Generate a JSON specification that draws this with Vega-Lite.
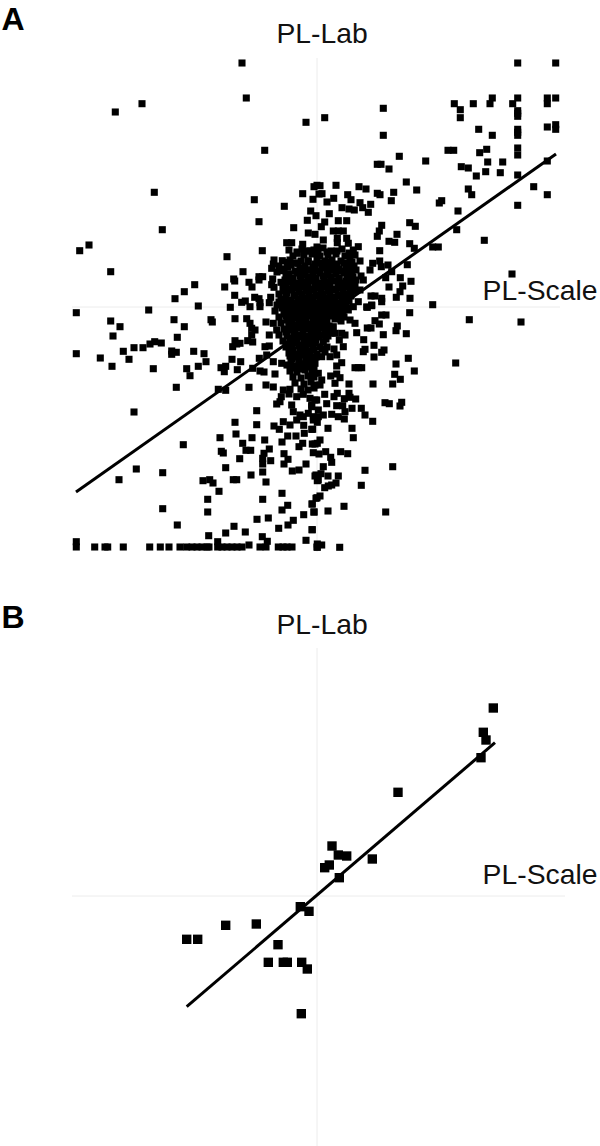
{"$schema":"https://vega.github.io/schema/vega-lite/v6.json","padding":0,"spacing":0,"background":"white","config":{"view":{"stroke":null},"concat":{"spacing":0}},
"datasets":{
"aPts":[
{"x":-75,"y":244},{"x":-70.7,"y":209},{"x":-11,"y":184.7},{"x":-52.3,"y":156.7},{"x":-201.7,"y":195},{"x":-175,"y":203.3},{"x":-162.7,"y":114.7},{"x":-154.7,"y":77.3},{"x":-237.3,"y":56.3},{"x":-228,"y":62},{"x":-206.3,"y":35.3},{"x":-62.7,"y":107.3},{"x":-58,"y":85.3},{"x":-32.7,"y":100.7},{"x":-14.3,"y":113.3},{"x":-4,"y":107.7},{"x":-6.3,"y":96},{"x":-1,"y":91.3},{"x":-9.7,"y":86.7},{"x":-23.3,"y":79.3},{"x":-8.7,"y":74},{"x":-2,"y":72.7},{"x":-3,"y":120.3},{"x":0,"y":121.7},{"x":2,"y":113},{"x":-54.7,"y":56.3},{"x":-90,"y":50.3},{"x":-30.3,"y":64.3},{"x":-25.3,"y":64.3},{"x":-14.3,"y":62.7},{"x":-28,"y":57},{"x":-19.7,"y":53.7},{"x":-7,"y":56},{"x":0,"y":60},{"x":-43,"y":47},{"x":-43.7,"y":43},{"x":-34.7,"y":46.3},{"x":-30,"y":44.7},{"x":-29.3,"y":39.7},{"x":-45.3,"y":38.7},{"x":-33.7,"y":36.3},{"x":-74,"y":35.3},{"x":-19,"y":43.7},{"x":-8.7,"y":46.3},{"x":-122.3,"y":22.3},{"x":-132.7,"y":15.3},{"x":-142,"y":8.3},{"x":-118.7,"y":1},{"x":-92.3,"y":20},{"x":-83.3,"y":28},{"x":-82.3,"y":26},{"x":-68,"y":24.7},{"x":-65,"y":20},{"x":-58,"y":30.3},{"x":-54.3,"y":30.3},{"x":-58,"y":27},{"x":-44.3,"y":28},{"x":-45.3,"y":22.3},{"x":-36,"y":24.7},{"x":-43,"y":19.7},{"x":-82.3,"y":11.7},{"x":-75.3,"y":4.7},{"x":-71.7,"y":6},{"x":-62.3,"y":9.7},{"x":-58,"y":8.3},{"x":-46.3,"y":9.7},{"x":-86.7,"y":-0.3},{"x":-67,"y":0.3},{"x":-57,"y":0.3},{"x":-57,"y":4.3},{"x":-47.7,"y":4.3},{"x":-168.3,"y":-3},
{"x":200.7,"y":244},{"x":238.7,"y":244},{"x":66.3,"y":198.7},{"x":7.7,"y":189.3},{"x":137.3,"y":203.3},{"x":143.3,"y":197.3},{"x":143.3,"y":189.3},{"x":156.3,"y":203.3},{"x":175.3,"y":209},{"x":173,"y":203.3},{"x":195.7,"y":203.3},{"x":200.7,"y":209},{"x":230.3,"y":209},{"x":230.3,"y":203.3},{"x":238.7,"y":209},{"x":200.7,"y":196.3},{"x":200.7,"y":190.7},{"x":200.7,"y":193.7},{"x":161.7,"y":177.7},{"x":175.3,"y":171.7},{"x":200.7,"y":177.7},{"x":200.7,"y":171.7},{"x":200.7,"y":174.7},{"x":230.3,"y":180},{"x":238.7,"y":182.3},{"x":238.7,"y":177.7},{"x":66.3,"y":171.7},{"x":131,"y":156.7},{"x":136.7,"y":156.7},{"x":169.7,"y":157.7},{"x":162.7,"y":154.3},{"x":200.7,"y":159},{"x":200.7,"y":152},{"x":82.3,"y":150.7},{"x":108.7,"y":146},{"x":60.3,"y":142.7},{"x":64,"y":142.7},{"x":72,"y":138},{"x":144.3,"y":140.3},{"x":151.3,"y":139},{"x":170.7,"y":145},{"x":185.7,"y":145},{"x":230.3,"y":146},{"x":168.7,"y":135.3},{"x":183.3,"y":134.3},{"x":159.3,"y":131},{"x":200.7,"y":132},{"x":89.3,"y":125},{"x":19,"y":121.7},{"x":42,"y":120.3},{"x":49,"y":118},{"x":99.7,"y":117},{"x":151.3,"y":118},{"x":216.7,"y":120.3},{"x":230.3,"y":112.3},{"x":154.7,"y":112.3},{"x":76.7,"y":114.7},{"x":60.3,"y":113.7},{"x":63,"y":112.3},{"x":5,"y":113.3},{"x":3,"y":121.3},{"x":30.7,"y":112.3},{"x":16.7,"y":108.7},{"x":34,"y":107.3},{"x":10,"y":105},{"x":74.3,"y":106.3},{"x":124.7,"y":106.3},{"x":122.3,"y":104},{"x":43,"y":104.3},{"x":53.7,"y":102.7},{"x":45.7,"y":99.3},{"x":25,"y":99.3},{"x":32,"y":98},{"x":37.3,"y":97},{"x":51.3,"y":94.7},{"x":12.3,"y":93.3},{"x":141,"y":96},{"x":200.7,"y":101.7},{"x":21.3,"y":86.3},{"x":29.7,"y":86.3},{"x":7.7,"y":85},{"x":4.3,"y":80.3},{"x":64.7,"y":81.7},{"x":92.7,"y":84.3},{"x":98.3,"y":80.7},{"x":62.3,"y":76},{"x":60.3,"y":70.7},{"x":139.7,"y":77.3},{"x":16.3,"y":76},{"x":21.3,"y":76},{"x":26.3,"y":76},{"x":80,"y":72.7},{"x":20.3,"y":68.7},{"x":29.7,"y":68.7},{"x":6.3,"y":67},{"x":72,"y":65.7},{"x":77.7,"y":64.7},{"x":167.3,"y":66.7},{"x":92.7,"y":63.3},{"x":97.3,"y":58.7},{"x":115.7,"y":60},{"x":121.3,"y":60},{"x":20.3,"y":64.3},{"x":31.3,"y":63.7},{"x":41.3,"y":60.3},{"x":62.7,"y":56.3},{"x":36.3,"y":57},{"x":43,"y":46},{"x":62.7,"y":46},{"x":55.7,"y":43.7},{"x":71,"y":42},{"x":90.3,"y":42.3},{"x":53,"y":37},{"x":64.3,"y":40.3},{"x":74.7,"y":35.3},{"x":195,"y":33},{"x":68.7,"y":29.3},{"x":83.3,"y":29.3},{"x":94,"y":25.7},{"x":85.7,"y":21},{"x":72,"y":20},{"x":83,"y":15.3},{"x":79.3,"y":9.7},{"x":54,"y":11},{"x":58,"y":11},{"x":64.7,"y":8.7},{"x":93,"y":8.7},{"x":54.7,"y":1.3},{"x":49.7,"y":0},{"x":115.7,"y":2.3},{"x":46.3,"y":27},{"x":43,"y":17},
{"x":-240.7,"y":-5.7},{"x":-240.7,"y":-46.7},{"x":-206.3,"y":-14},{"x":-197,"y":-19.7},{"x":-204,"y":-29},{"x":-143,"y":-12.7},{"x":-132.7,"y":-19.7},{"x":-139.7,"y":-30.3},{"x":-106,"y":-12.7},{"x":-104.7,"y":-15},{"x":-82,"y":-11.7},{"x":-70.3,"y":-11.7},{"x":-67,"y":-16.3},{"x":-65.3,"y":-21.3},{"x":-62,"y":-23},{"x":-65.3,"y":-28},{"x":-51,"y":-15},{"x":-43.7,"y":-16.3},{"x":-47.7,"y":-28},{"x":-40.3,"y":-23},{"x":-82,"y":-33.7},{"x":-84.3,"y":-39.7},{"x":-80.3,"y":-37},{"x":-77,"y":-36.3},{"x":-69.3,"y":-33.7},{"x":-64.3,"y":-35},{"x":-52,"y":-39.7},{"x":-47.7,"y":-39},{"x":-155.7,"y":-36},{"x":-162.3,"y":-34.7},{"x":-167,"y":-37},{"x":-174,"y":-40.7},{"x":-183,"y":-40.7},{"x":-193.7,"y":-44.3},{"x":-188,"y":-52.3},{"x":-216.7,"y":-51},{"x":-205,"y":-59.3},{"x":-163.7,"y":-61.7},{"x":-145.3,"y":-44},{"x":-140.7,"y":-45.3},{"x":-145.3,"y":-47.3},{"x":-123.3,"y":-44.3},{"x":-113,"y":-46.7},{"x":-111,"y":-54.7},{"x":-118.7,"y":-59.3},{"x":-130.3,"y":-61.7},{"x":-127,"y":-68.7},{"x":-140.7,"y":-80.3},{"x":-85,"y":-52.3},{"x":-76.3,"y":-54.7},{"x":-96,"y":-60.7},{"x":-91.3,"y":-59.3},{"x":-92.7,"y":-64.7},{"x":-79.7,"y":-62.7},{"x":-57.7,"y":-51.3},{"x":-64.3,"y":-61.3},{"x":-57,"y":-64},{"x":-53,"y":-65},{"x":-50.3,"y":-48},{"x":-43.7,"y":-54.7},{"x":-35.3,"y":-56.3},{"x":-42,"y":-67},{"x":-98.7,"y":-82.3},{"x":-91.3,"y":-83.3},{"x":-68,"y":-80.3},{"x":-51,"y":-78},{"x":-43.7,"y":-80},{"x":-33.7,"y":-83},{"x":-27,"y":-82.3},{"x":-28,"y":-87},{"x":-35.7,"y":-89.7},{"x":-37,"y":-94.7},{"x":-40.3,"y":-97},{"x":-60.3,"y":-103.7},{"x":-183,"y":-105},{"x":-82,"y":-115.3},{"x":-60.3,"y":-117.7},{"x":-81,"y":-127},{"x":-97,"y":-130.7},{"x":-65,"y":-130.7},{"x":-52.3,"y":-133},{"x":-74.3,"y":-136.3},{"x":-133.7,"y":-137.7},{"x":-95.7,"y":-144.3},{"x":-93.7,"y":-146},{"x":-71,"y":-143.3},{"x":-66.3,"y":-143.3},{"x":-47.7,"y":-142},{"x":-53,"y":-146.3},{"x":-54.3,"y":-151.3},{"x":-46.3,"y":-153.7},{"x":-54.3,"y":-157},{"x":-77.3,"y":-151.7},{"x":-91.3,"y":-160.7},{"x":-180.7,"y":-162},{"x":-154.3,"y":-165.7},{"x":-198,"y":-172.7},{"x":-114,"y":-173.7},{"x":-107.3,"y":-172.7},{"x":-104,"y":-176},{"x":-83.7,"y":-172.7},{"x":-80.3,"y":-172.7},{"x":-66,"y":-168},{"x":-54.3,"y":-165},{"x":-51,"y":-175},{"x":-98,"y":-184.3},{"x":-109.3,"y":-192.3},{"x":-109.3,"y":-205},{"x":-154.3,"y":-201.7},{"x":-54.3,"y":-192.3},{"x":-35,"y":-186.3},{"x":-139.7,"y":-218},{"x":-60,"y":-212.3},{"x":-48.7,"y":-211},{"x":-35,"y":-203},{"x":-29.3,"y":-198.3},{"x":-83,"y":-219.3},{"x":-91.3,"y":-226},{"x":-71.7,"y":-225},{"x":-108.3,"y":-228.7},{"x":-38.3,"y":-221.3},{"x":-29,"y":-218},{"x":-23.7,"y":-213.3},{"x":-13.3,"y":-207.7},{"x":-3,"y":-205},{"x":-5,"y":-222.7},{"x":-5,"y":-197},{"x":0,"y":-190.7},{"x":-54.7,"y":-229.7},{"x":-49.7,"y":-234.3},{"x":-11,"y":-233.3},
{"x":-240.7,"y":-234.7},{"x":-240.7,"y":-240},{"x":-222.3,"y":-240},{"x":-212,"y":-240},{"x":-209.3,"y":-240},{"x":-193.7,"y":-240},{"x":-167.3,"y":-240},{"x":-156.7,"y":-240},{"x":-148,"y":-240},{"x":-137,"y":-240},{"x":-130.3,"y":-240},{"x":-125,"y":-240},{"x":-120,"y":-240},{"x":-115,"y":-240},{"x":-110,"y":-240},{"x":-108,"y":-240},{"x":-99.3,"y":-234.7},{"x":-99.3,"y":-240},{"x":-95,"y":-240},{"x":-90,"y":-240},{"x":-85,"y":-240},{"x":-80,"y":-240},{"x":-75,"y":-240},{"x":-68,"y":-238},{"x":-57,"y":-240},{"x":-51,"y":-240},{"x":-38.7,"y":-240},{"x":-34,"y":-240},{"x":-30,"y":-240},{"x":-25,"y":-240},{"x":0,"y":-240},
{"x":-20.3,"y":-89.7},{"x":-13.7,"y":-87.3},{"x":-7,"y":-91.3},{"x":-5.3,"y":-98},{"x":-8.7,"y":-106.3},{"x":-17,"y":-108},{"x":-23.7,"y":-104.7},{"x":-25.3,"y":-98},{"x":-2,"y":-93},{"x":1.3,"y":-103},{"x":-3.7,"y":-109.7},{"x":-33.7,"y":-114.7},{"x":-27,"y":-118},{"x":-20.3,"y":-113},{"x":-13.7,"y":-109.7},{"x":-3.7,"y":-113},{"x":-43,"y":-119},{"x":-37.7,"y":-122.3},{"x":-13.3,"y":-118.3},{"x":-5.3,"y":-122.3},{"x":-29.3,"y":-129},{"x":-21,"y":-129},{"x":-12.7,"y":-126.3},{"x":-35,"y":-135},{"x":-14.3,"y":-136.3},{"x":-18,"y":-139.7},{"x":-4.7,"y":-137},{"x":0.3,"y":-136.3},{"x":-33,"y":-146.7},{"x":-29,"y":-152.3},{"x":-33,"y":-157},{"x":-24.7,"y":-164},{"x":-18,"y":-163},{"x":-11,"y":-157},{"x":-1,"y":-168},{"x":1.3,"y":-173},
{"x":92.7,"y":-5.7},{"x":152.3,"y":-12.7},{"x":204,"y":-15},{"x":64.7,"y":-8},{"x":69,"y":-8},{"x":62.3,"y":-17},{"x":58,"y":-13.7},{"x":50.3,"y":-21},{"x":54,"y":-21},{"x":80.3,"y":-19},{"x":79,"y":-23.7},{"x":89.3,"y":-26.7},{"x":66.3,"y":-27.7},{"x":39.7,"y":-25.7},{"x":46.7,"y":-32.7},{"x":57,"y":-38.3},{"x":48,"y":-42.3},{"x":46.3,"y":-44.7},{"x":67,"y":-43},{"x":64.7,"y":-45.3},{"x":57,"y":-50},{"x":91.3,"y":-51.3},{"x":79,"y":-57},{"x":138.7,"y":-56},{"x":97.3,"y":-64},{"x":77.7,"y":-67.3},{"x":83.3,"y":-72.3},{"x":38,"y":-60.7},{"x":41.3,"y":-60.7},{"x":44.7,"y":-60.7},{"x":32,"y":-77},{"x":56,"y":-77},{"x":75.7,"y":-77},{"x":24.7,"y":-55.7},{"x":19.7,"y":-59},{"x":13.7,"y":-69},{"x":19.7,"y":-67},{"x":23,"y":-70.7},{"x":18,"y":-76.3},{"x":7.7,"y":-87.3},{"x":20.3,"y":-86.3},{"x":17,"y":-89.7},{"x":32,"y":-86.3},{"x":27.3,"y":-91.7},{"x":33,"y":-90.3},{"x":38.7,"y":-92},{"x":9.7,"y":-96.7},{"x":19.7,"y":-98.7},{"x":25.7,"y":-98.7},{"x":28,"y":-104.7},{"x":35,"y":-101.3},{"x":44.3,"y":-101.3},{"x":48,"y":-108},{"x":55.7,"y":-114.3},{"x":68,"y":-95.7},{"x":72.3,"y":-96.7},{"x":84.7,"y":-95.3},{"x":83,"y":-99},{"x":14.7,"y":-107.3},{"x":21.3,"y":-109.7},{"x":27.3,"y":-112},{"x":6.3,"y":-108},{"x":1.3,"y":-109.7},{"x":0.3,"y":-115.3},{"x":-4.3,"y":-122.3},{"x":11,"y":-121.3},{"x":35,"y":-121.3},{"x":36.3,"y":-130.7},{"x":3,"y":-133},{"x":-2,"y":-137},{"x":-3.7,"y":-145.7},{"x":2,"y":-147},{"x":8.7,"y":-144.7},{"x":13.7,"y":-150.3},{"x":14.7,"y":-155.3},{"x":23.7,"y":-144.7},{"x":30.7,"y":-146.7},{"x":6.3,"y":-159.7},{"x":48,"y":-163.3},{"x":75.7,"y":-159.7},{"x":-2,"y":-169},{"x":4,"y":-166.7},{"x":11,"y":-169},{"x":21.3,"y":-169},{"x":0.3,"y":-173.7},{"x":19,"y":-176},{"x":14.7,"y":-178},{"x":11.3,"y":-179},{"x":7.7,"y":-180.7},{"x":44.3,"y":-178.3},{"x":3,"y":-189},{"x":-1,"y":-191.3},{"x":-4.7,"y":-197},{"x":27,"y":-199.3},{"x":-3,"y":-205},{"x":11,"y":-204},{"x":68.7,"y":-205},{"x":-4.7,"y":-222.7},{"x":0.3,"y":-237},{"x":4.7,"y":-238},{"x":0.3,"y":-240.3},{"x":22.7,"y":-240.3},
{"x":1.3,"y":-66.3},{"x":4.7,"y":-73},{"x":-2,"y":-78},{"x":3,"y":-78},{"x":-0.3,"y":-93},{"x":-5.3,"y":-99.7},{"x":19.7,"y":-48},{"x":13,"y":-49.7},{"x":4.7,"y":-49.7},{"x":-2,"y":-56.3},{"x":26.3,"y":-39.7},{"x":22.3,"y":-33},{"x":18,"y":-26.3},{"x":24.7,"y":-26.3},{"x":38,"y":-16.3},{"x":33,"y":-13},{"x":28,"y":-28},{"x":6.3,"y":-34.7},{"x":3,"y":-39.7},{"x":9.7,"y":-19.7},{"x":16.3,"y":-19.7},{"x":31.3,"y":-3},{"x":36.3,"y":0.3},{"x":41.3,"y":5.3},{"x":50.3,"y":-0.3},{"x":54.7,"y":2},{"x":64.7,"y":5.3},
{"x":-15,"y":58},{"x":-3,"y":57},{"x":6,"y":59},{"x":14,"y":56},{"x":25,"y":58},{"x":-24,"y":51},{"x":-13,"y":52},{"x":-5,"y":53},{"x":3,"y":51},{"x":11,"y":52},{"x":19,"y":53},{"x":28,"y":51},{"x":38,"y":52},{"x":-27,"y":47},{"x":-16,"y":46},{"x":0,"y":48},{"x":8,"y":46},{"x":15,"y":47},{"x":24,"y":46},{"x":33,"y":48},{"x":-38,"y":41},{"x":-26,"y":42},{"x":-12,"y":41},{"x":-4,"y":40},{"x":5,"y":42},{"x":12,"y":41},{"x":20,"y":40},{"x":29,"y":42},{"x":37,"y":41},{"x":-40,"y":35},{"x":-22,"y":36},{"x":-14,"y":35},{"x":-7,"y":37},{"x":2,"y":36},{"x":10,"y":35},{"x":17,"y":37},{"x":25,"y":36},{"x":33,"y":35},{"x":39,"y":37},{"x":-31,"y":30},{"x":-25,"y":29},{"x":-17,"y":31},{"x":-9,"y":30},{"x":-1,"y":29},{"x":6,"y":31},{"x":14,"y":30},{"x":22,"y":29},{"x":30,"y":31},{"x":36,"y":30},{"x":44,"y":31},{"x":-28,"y":25},{"x":-20,"y":24},{"x":-12,"y":25},{"x":-5,"y":26},{"x":3,"y":24},{"x":10,"y":25},{"x":18,"y":26},{"x":26,"y":24},{"x":33,"y":25},{"x":38,"y":22},{"x":-34,"y":19},{"x":-27,"y":18},{"x":-21,"y":19},{"x":-14,"y":20},{"x":-6,"y":18},{"x":1,"y":19},{"x":9,"y":20},{"x":16,"y":18},{"x":24,"y":19},{"x":31,"y":20},{"x":37,"y":16},{"x":-38,"y":13},{"x":-30,"y":14},{"x":-22,"y":12},{"x":-15,"y":13},{"x":-8,"y":14},{"x":-1,"y":12},{"x":6,"y":13},{"x":13,"y":14},{"x":21,"y":12},{"x":28,"y":13},{"x":34,"y":11},{"x":-36,"y":8},{"x":-26,"y":7},{"x":-19,"y":8},{"x":-11,"y":9},{"x":-4,"y":7},{"x":3,"y":8},{"x":11,"y":9},{"x":18,"y":7},{"x":25,"y":8},{"x":32,"y":6},{"x":-40,"y":2},{"x":-33,"y":3},{"x":-25,"y":1},{"x":-17,"y":2},{"x":-10,"y":3},{"x":-3,"y":1},{"x":5,"y":2},{"x":12,"y":3},{"x":19,"y":1},{"x":27,"y":2},{"x":-42,"y":-4},{"x":-30,"y":-3},{"x":-24,"y":-5},{"x":-16,"y":-4},{"x":-9,"y":-3},{"x":-2,"y":-5},{"x":6,"y":-4},{"x":13,"y":-3},{"x":20,"y":-5},{"x":26,"y":-4},{"x":-38,"y":-10},{"x":-31,"y":-9},{"x":-23,"y":-11},{"x":-15,"y":-10},{"x":-8,"y":-9},{"x":0,"y":-11},{"x":7,"y":-10},{"x":14,"y":-9},{"x":21,"y":-11},{"x":27,"y":-10},{"x":-36,"y":-16},{"x":-28,"y":-15},{"x":-14,"y":-16},{"x":-7,"y":-17},{"x":1,"y":-15},{"x":7,"y":-16},{"x":-33,"y":-22},{"x":-26,"y":-23},{"x":-19,"y":-21},{"x":-12,"y":-22},{"x":-5,"y":-23},{"x":2,"y":-21},{"x":10,"y":-24},{"x":14,"y":-26},{"x":-38,"y":-28},{"x":-30,"y":-29},{"x":-23,"y":-27},{"x":-16,"y":-28},{"x":-9,"y":-29},{"x":-3,"y":-27},{"x":4,"y":-28},{"x":11,"y":-29},{"x":-34,"y":-34},{"x":-27,"y":-35},{"x":-20,"y":-33},{"x":-13,"y":-34},{"x":-6,"y":-35},{"x":-1,"y":-33},{"x":-31,"y":-40},{"x":-25,"y":-41},{"x":-18,"y":-39},{"x":-11,"y":-40},{"x":-4,"y":-41},{"x":10,"y":-40},{"x":17,"y":-42},{"x":-28,"y":-46},{"x":-21,"y":-47},{"x":-14,"y":-45},{"x":-7,"y":-46},{"x":0,"y":-47},{"x":8,"y":-45},{"x":-25,"y":-52},{"x":-18,"y":-53},{"x":-11,"y":-51},{"x":-5,"y":-52},{"x":-30,"y":-58},{"x":-22,"y":-59},{"x":-15,"y":-57},{"x":-8,"y":-58},{"x":-27,"y":-64},{"x":-20,"y":-65},{"x":-12,"y":-63},{"x":-5,"y":-64},{"x":-24,"y":-70},{"x":-16,"y":-71},{"x":-9,"y":-69},{"x":-3,"y":-70},{"x":-22,"y":-76},{"x":-13,"y":-77},{"x":-6,"y":-75},{"x":-16,"y":-82},{"x":-9,"y":-83},{"x":-3,"y":-81},
{"x":-20,"y":55},{"x":-9,"y":56},{"x":1,"y":54},{"x":10,"y":55},{"x":20,"y":56},{"x":32,"y":54},{"x":-21,"y":44},{"x":-9,"y":45},{"x":-2,"y":43},{"x":4,"y":44},{"x":10,"y":45},{"x":18,"y":43},{"x":27,"y":44},{"x":35,"y":45},{"x":-33,"y":38},{"x":-17,"y":39},{"x":-10,"y":37},{"x":-2,"y":38},{"x":7,"y":39},{"x":14,"y":37},{"x":22,"y":38},{"x":31,"y":39},{"x":-28,"y":33},{"x":-20,"y":34},{"x":-12,"y":32},{"x":-4,"y":33},{"x":3,"y":34},{"x":11,"y":32},{"x":19,"y":33},{"x":27,"y":34},{"x":35,"y":33},{"x":-32,"y":27},{"x":-24,"y":28},{"x":-16,"y":26},{"x":-8,"y":27},{"x":-2,"y":28},{"x":7,"y":26},{"x":14,"y":27},{"x":22,"y":28},{"x":29,"y":26},{"x":39,"y":27},{"x":-31,"y":22},{"x":-24,"y":23},{"x":-17,"y":21},{"x":-9,"y":22},{"x":-2,"y":23},{"x":5,"y":21},{"x":13,"y":22},{"x":21,"y":23},{"x":29,"y":21},{"x":35,"y":22},{"x":-33,"y":16},{"x":-25,"y":17},{"x":-18,"y":15},{"x":-11,"y":16},{"x":-3,"y":17},{"x":4,"y":15},{"x":11,"y":16},{"x":19,"y":17},{"x":26,"y":15},{"x":33,"y":16},{"x":-31,"y":10},{"x":-23,"y":11},{"x":-15,"y":9},{"x":-7,"y":10},{"x":0,"y":11},{"x":8,"y":9},{"x":15,"y":10},{"x":22,"y":11},{"x":29,"y":9},{"x":-38,"y":5},{"x":-30,"y":6},{"x":-22,"y":4},{"x":-14,"y":5},{"x":-7,"y":6},{"x":0,"y":4},{"x":8,"y":5},{"x":15,"y":6},{"x":23,"y":4},{"x":29,"y":5},{"x":-35,"y":-1},{"x":-28,"y":0},{"x":-20,"y":-2},{"x":-13,"y":-1},{"x":-6,"y":0},{"x":2,"y":-2},{"x":9,"y":-1},{"x":16,"y":0},{"x":23,"y":-2},{"x":30,"y":-1},{"x":-33,"y":-7},{"x":-26,"y":-6},{"x":-19,"y":-8},{"x":-12,"y":-7},{"x":-5,"y":-6},{"x":3,"y":-8},{"x":10,"y":-7},{"x":17,"y":-6},{"x":24,"y":-8},{"x":-30,"y":-13},{"x":-25,"y":-12},{"x":-18,"y":-14},{"x":-11,"y":-13},{"x":-4,"y":-12},{"x":4,"y":-14},{"x":10,"y":-13},{"x":18,"y":-12},{"x":24,"y":-14},{"x":-28,"y":-19},{"x":-22,"y":-18},{"x":-16,"y":-20},{"x":-9,"y":-19},{"x":-2,"y":-18},{"x":5,"y":-20},{"x":12,"y":-19},{"x":-31,"y":-25},{"x":-22,"y":-24},{"x":-14,"y":-26},{"x":-6,"y":-25},{"x":1,"y":-24},{"x":8,"y":-26},{"x":-26,"y":-31},{"x":-18,"y":-30},{"x":-11,"y":-32},{"x":-4,"y":-31},{"x":2,"y":-30},{"x":9,"y":-32},{"x":-29,"y":-37},{"x":-22,"y":-36},{"x":-15,"y":-38},{"x":-8,"y":-37},{"x":-2,"y":-36},{"x":-24,"y":-43},{"x":-17,"y":-42},{"x":-10,"y":-44},{"x":-3,"y":-43},{"x":5,"y":-42},{"x":-27,"y":-49},{"x":-22,"y":-50},{"x":-15,"y":-48},{"x":-8,"y":-49},{"x":-1,"y":-50},{"x":-26,"y":-55},{"x":-18,"y":-56},{"x":-11,"y":-54},{"x":-4,"y":-55},{"x":-24,"y":-61},{"x":-17,"y":-62},{"x":-10,"y":-60},{"x":-3,"y":-61}
],
"bPts":[{"x":176.3,"y":188},{"x":166.3,"y":163.7},{"x":169,"y":156},{"x":164,"y":138.3},{"x":81,"y":103.7},{"x":15,"y":50},{"x":21.3,"y":41},{"x":29.7,"y":40},{"x":55.3,"y":37},{"x":12.3,"y":31},{"x":7.7,"y":28.3},{"x":22.3,"y":18.3},{"x":-16.7,"y":-10.7},{"x":-8,"y":-15.3},{"x":-60.7,"y":-28},{"x":-91.3,"y":-29.3},{"x":-130.3,"y":-43.3},{"x":-119.3,"y":-43.3},{"x":-39,"y":-48.7},{"x":-48.7,"y":-66.3},{"x":-33.7,"y":-66.3},{"x":-29.7,"y":-66.3},{"x":-15.3,"y":-66.3},{"x":-9.7,"y":-73},{"x":-15.7,"y":-117.7}],
"aLine":[{"x":-241,"y":-185},{"x":239,"y":153}],
"bLine":[{"x":-130.3,"y":-110.7},{"x":178,"y":153.3}],
"aH":[{"x":-245,"x2":243,"y":0}],"aV":[{"y":249,"y2":-245,"x":0}],
"bH":[{"x":-245,"x2":248,"y":0}],"bV":[{"y":248,"y2":-250,"x":0}],
"aText":[{"x":5,"y":272,"t":"PL-Lab"},{"x":223,"y":15,"t":"PL-Scale"}],
"aHead":[{"x":-304,"y":287,"t":"A"}],
"bText":[{"x":5,"y":270,"t":"PL-Lab"},{"x":223,"y":20,"t":"PL-Scale"}],
"bHead":[{"x":-304,"y":278,"t":"B"}]
},
"vconcat":[
{"width":600,"height":600,
"encoding":{"x":{"field":"x","type":"quantitative","axis":null,"scale":{"domain":[-317,283],"nice":false,"zero":false}},"y":{"field":"y","type":"quantitative","axis":null,"scale":{"domain":[-293,307],"nice":false,"zero":false}}},
"layer":[
{"data":{"name":"aH"},"mark":{"type":"rule","color":"#ececec","strokeWidth":1},"encoding":{"x2":{"field":"x2"}}},
{"data":{"name":"aV"},"mark":{"type":"rule","color":"#ececec","strokeWidth":1},"encoding":{"y2":{"field":"y2"}}},
{"data":{"name":"aPts"},"mark":{"type":"point","shape":"square","filled":true,"color":"#000","opacity":1,"size":50,"strokeWidth":0}},
{"data":{"name":"aLine"},"mark":{"type":"line","color":"#000","strokeWidth":3}},
{"data":{"name":"aText"},"mark":{"type":"text","font":"Liberation Sans","fontSize":28.3,"align":"center","baseline":"middle","color":"#111"},"encoding":{"text":{"field":"t"}}},
{"data":{"name":"aHead"},"mark":{"type":"text","font":"Liberation Sans","fontSize":32,"fontWeight":"bold","align":"center","baseline":"middle","color":"#000"},"encoding":{"text":{"field":"t"}}}
]},
{"width":600,"height":546,
"encoding":{"x":{"field":"x","type":"quantitative","axis":null,"scale":{"domain":[-317,283],"nice":false,"zero":false}},"y":{"field":"y","type":"quantitative","axis":null,"scale":{"domain":[-250,296],"nice":false,"zero":false}}},
"layer":[
{"data":{"name":"bH"},"mark":{"type":"rule","color":"#ececec","strokeWidth":1},"encoding":{"x2":{"field":"x2"}}},
{"data":{"name":"bV"},"mark":{"type":"rule","color":"#ececec","strokeWidth":1},"encoding":{"y2":{"field":"y2"}}},
{"data":{"name":"bPts"},"mark":{"type":"point","shape":"square","filled":true,"color":"#000","opacity":1,"size":88,"strokeWidth":0}},
{"data":{"name":"bLine"},"mark":{"type":"line","color":"#000","strokeWidth":3}},
{"data":{"name":"bText"},"mark":{"type":"text","font":"Liberation Sans","fontSize":28.3,"align":"center","baseline":"middle","color":"#111"},"encoding":{"text":{"field":"t"}}},
{"data":{"name":"bHead"},"mark":{"type":"text","font":"Liberation Sans","fontSize":32,"fontWeight":"bold","align":"center","baseline":"middle","color":"#000"},"encoding":{"text":{"field":"t"}}}
]}
]}
